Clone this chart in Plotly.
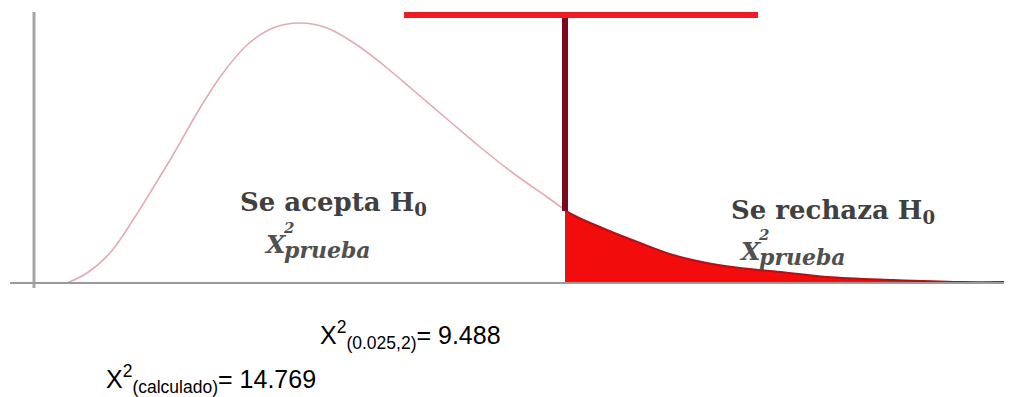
import plotly.graph_objects as go

# curve (x along the baseline, height above the baseline)
curve_x = [67, 87, 110, 133, 153, 173, 200, 223, 247, 273, 300, 327, 357, 387, 413, 447, 480, 513, 547, 565]
curve_y = [0, 10, 30, 63, 95, 128, 175, 210, 238, 255, 260, 255, 238, 215, 193, 164, 136, 110, 86, 73]

# rejection tail
tail_x = [565, 573, 607, 640, 673, 707, 740, 780, 827, 893, 960, 1010]
tail_y = [73, 68, 53, 40, 28, 20, 15, 11, 6, 3, 1, 1]

crit_x = 565
top_y = 268
bar_x = [404, 758]

fig = go.Figure()

fig.add_trace(go.Scatter(x=curve_x, y=curve_y, mode="lines", line_shape="spline",
                         line=dict(color="#e3aab2", width=1.6), hoverinfo="skip"))
fig.add_trace(go.Scatter(x=tail_x, y=tail_y, mode="lines", line_shape="spline",
                         fill="tozeroy", fillcolor="#f20c0c",
                         line=dict(color="#b80f14", width=2), hoverinfo="skip"))
fig.add_trace(go.Scatter(x=[crit_x, crit_x], y=[tail_y[0] - 1, top_y], mode="lines",
                         line=dict(color="#7c0a1c", width=6), hoverinfo="skip"))
fig.add_trace(go.Scatter(x=bar_x, y=[top_y, top_y], mode="lines",
                         line=dict(color="#ee1c24", width=6), hoverinfo="skip"))

# axes of the sketch
fig.add_shape(type="line", x0=34, x1=34, y0=-5, y1=271, line=dict(color="#a6a6a6", width=3))
fig.add_shape(type="line", x0=10, x1=1012, y0=0, y1=0, line=dict(color="#9a9a9a", width=2))

serif = "DejaVu Serif"
fig.add_annotation(x=333, y=80, text="<b>Se acepta H<sub>0</sub></b>", showarrow=False,
                   font=dict(family=serif, size=26, color="#404040"))
fig.add_annotation(x=833, y=72, text="<b>Se rechaza H<sub>0</sub></b>", showarrow=False,
                   font=dict(family=serif, size=26, color="#404040"))

# chi-square labels: X, superscript 2 and subscript "prueba"
for lx, ly in [(262, 39), (737, 32)]:
    fig.add_annotation(x=lx, y=ly, xanchor="left", text="<b><i>X</i></b>", showarrow=False,
                       font=dict(family=serif, size=25, color="#505050"))
    fig.add_annotation(x=lx + 19, y=ly + 16, xanchor="left", text="<b><i>2</i></b>", showarrow=False,
                       font=dict(family=serif, size=15, color="#505050"))
    fig.add_annotation(x=lx + 20, y=ly - 6, xanchor="left", text="<b><i>prueba</i></b>", showarrow=False,
                       font=dict(family=serif, size=22, color="#505050"))

sans = "Liberation Sans"
fig.add_annotation(x=318, y=-52, xanchor="left", text="X<sup>2</sup><sub>(0.025,2)</sub>= 9.488",
                   showarrow=False, font=dict(family=sans, size=25, color="#000000"))
fig.add_annotation(x=318, y=-96, xanchor="right", text="X<sup>2</sup><sub>(calculado)</sub>= 14.769",
                   showarrow=False, font=dict(family=sans, size=25, color="#000000"))

# the page body has an 8px margin, so the figure is drawn 8px smaller and offset
fig.update_layout(width=1004, height=389, margin=dict(l=0, r=0, t=0, b=0),
                  paper_bgcolor="white", plot_bgcolor="white", showlegend=False)
fig.update_xaxes(range=[8, 1012], visible=False)
fig.update_yaxes(range=[-114, 275], visible=False)

fig.write_html("out.html")
